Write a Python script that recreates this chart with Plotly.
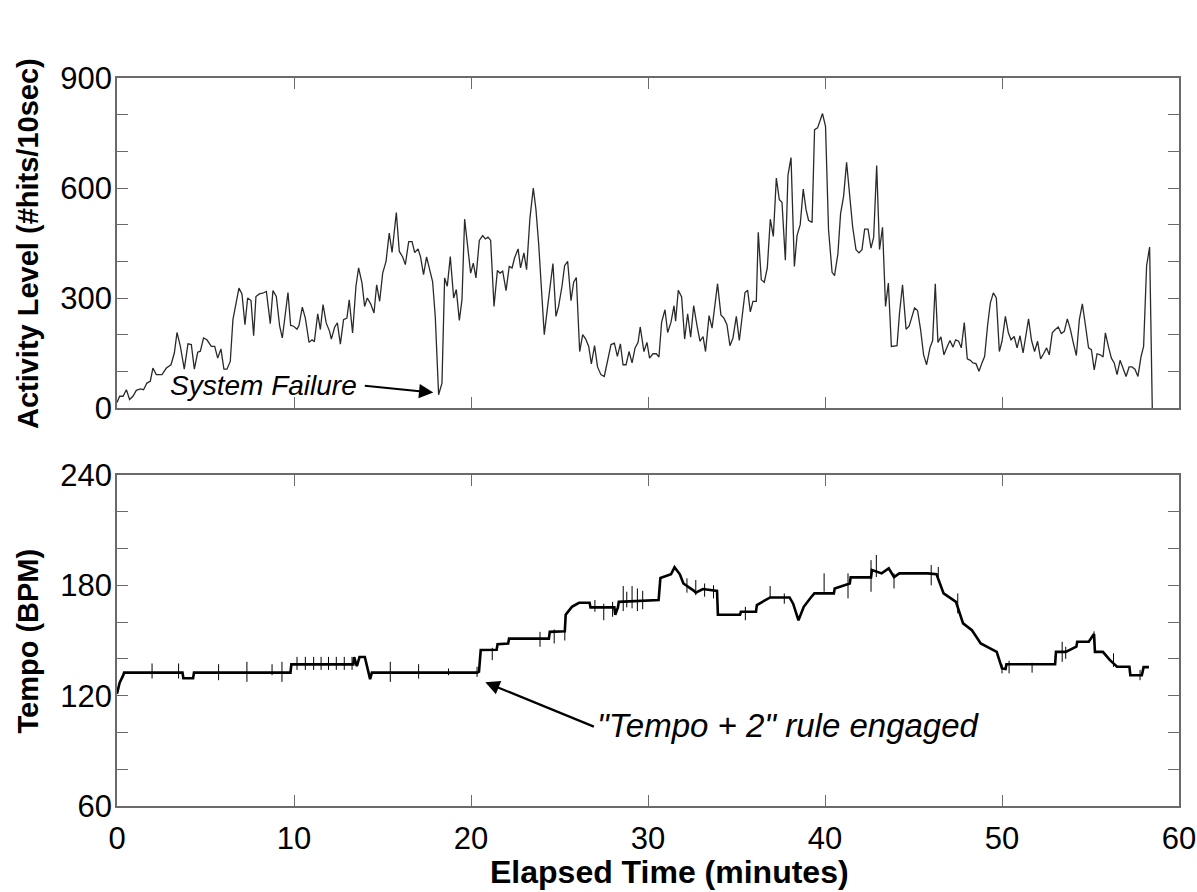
import plotly.graph_objects as go

# Activity level, one reading per vertex (minutes, hits per 10 s)
act_t = [0.00, 0.15, 0.34, 0.53, 0.71, 0.90, 1.09, 1.32, 1.50, 1.69, 1.88, 2.03, 2.22, 2.54, 2.79, 3.05, 3.24, 3.39,
         3.58, 3.80, 4.01, 4.20, 4.37, 4.56, 4.71, 4.89, 5.08, 5.33, 5.52, 5.69, 5.87, 6.04, 6.21, 6.40, 6.55, 6.74,
         6.89, 7.06, 7.23, 7.38, 7.57, 7.72, 7.85, 8.04, 8.23, 8.44, 8.66, 8.81, 9.00, 9.19, 9.34, 9.66, 9.81, 9.98,
         10.17, 10.28, 10.47, 10.64, 10.85, 11.02, 11.15, 11.34, 11.49, 11.64, 11.82, 12.01, 12.11, 12.30, 12.45,
         12.62, 12.80, 12.99, 13.12, 13.31, 13.50, 13.65, 13.84, 13.99, 14.14, 14.33, 14.52, 14.67, 14.84, 15.01,
         15.20, 15.38, 15.54, 15.78, 15.95, 16.14, 16.29, 16.48, 16.67, 16.82, 17.01, 17.15, 17.32, 17.49, 17.68,
         17.83, 17.98, 18.17, 18.36, 18.51, 18.66, 18.83, 19.02, 19.17, 19.34, 19.49, 19.64, 19.83, 19.98, 20.13,
         20.28, 20.47, 20.66, 20.81, 20.96, 21.11, 21.30, 21.49, 21.64, 21.79, 21.98, 22.16, 22.32, 22.46, 22.66,
         22.80, 22.99, 23.14, 23.33, 23.52, 23.67, 23.82, 24.01, 24.14, 24.33, 24.63, 24.80, 24.95, 25.14, 25.29,
         25.46, 25.65, 25.80, 25.95, 26.14, 26.31, 26.48, 26.65, 26.80, 26.98, 27.15, 27.34, 27.53, 27.70, 27.91,
         28.10, 28.27, 28.44, 28.59, 28.76, 28.93, 29.10, 29.27, 29.44, 29.56, 29.77, 29.94, 30.09, 30.28, 30.47,
         30.62, 30.77, 30.96, 31.11, 31.30, 31.47, 31.56, 31.71, 31.90, 32.07, 32.24, 32.41, 32.58, 32.77, 32.94,
         33.11, 33.25, 33.45, 33.62, 33.93, 34.12, 34.29, 34.46, 34.63, 34.80, 34.99, 35.16, 35.48, 35.63, 35.78,
         35.93, 36.12, 36.23, 36.40, 36.57, 36.74, 36.91, 37.08, 37.25, 37.42, 37.57, 37.76, 37.91, 38.08, 38.27,
         38.42, 38.60, 38.77, 38.93, 39.07, 39.27, 39.41, 39.58, 39.86, 40.03, 40.20, 40.40, 40.54, 40.73, 40.88,
         41.05, 41.22, 41.39, 41.56, 41.75, 41.92, 42.09, 42.24, 42.43, 42.60, 42.75, 42.92, 43.08, 43.25, 43.42,
         43.58, 43.75, 43.90, 44.07, 44.21, 44.38, 44.58, 44.75, 44.89, 45.06, 45.23, 45.40, 45.57, 45.74, 45.93,
         46.08, 46.23, 46.38, 46.55, 46.72, 46.89, 47.06, 47.23, 47.38, 47.55, 47.70, 47.87, 48.04, 48.21, 48.36,
         48.53, 48.70, 48.87, 49.02, 49.19, 49.34, 49.51, 49.68, 49.85, 50.00, 50.19, 50.36, 50.51, 50.69, 50.85,
         51.02, 51.19, 51.33, 51.50, 51.67, 51.84, 52.01, 52.18, 52.35, 52.52, 52.67, 52.84, 53.01, 53.18, 53.35,
         53.52, 53.69, 53.86, 54.01, 54.20, 54.37, 54.54, 54.71, 54.89, 55.05, 55.21, 55.37, 55.55, 55.71, 55.84,
         56.01, 56.18, 56.34, 56.50, 56.67, 56.84, 57.01, 57.18, 57.34, 57.51, 57.68, 57.85, 58.00, 58.17, 58.34,
         58.49]
act_v = [15, 32, 32, 50, 23, 32, 48, 52, 50, 68, 73, 109, 91, 91, 109, 118, 150, 206,
         168, 106, 175, 173, 106, 152, 155, 191, 186, 168, 168, 136, 161, 106, 106, 127, 241, 291,
         327, 311, 227, 300, 293, 197, 304, 311, 313, 318, 230, 320, 304, 223, 191, 315, 225, 223,
         215, 225, 275, 245, 179, 186, 181, 257, 214, 282, 232, 209, 188, 221, 232,
         174, 241, 245, 295, 205, 332, 382, 341, 277, 300, 284, 259, 336, 291, 368,
         400, 477, 424, 533, 427, 412, 391, 454, 454, 424, 434, 412, 364, 412, 373,
         345, 250, 36, 68, 355, 332, 413, 300, 323, 239, 295, 515, 432, 368, 395,
         355, 457, 470, 461, 466, 457, 277, 375, 368, 373, 320, 386, 382, 409, 434,
         382, 423, 377, 518, 600, 541, 450, 286, 200, 277, 394, 250, 277, 332, 388,
         400, 293, 343, 356, 154, 200, 188, 168, 120, 170, 112, 91, 86, 123, 173,
         177, 141, 175, 118, 118, 154, 123, 164, 179, 221, 154, 179, 136, 148, 148,
         139, 234, 268, 206, 234, 279, 237, 321, 303, 188, 257, 193, 279, 224, 182,
         195, 154, 252, 218, 339, 254, 245, 227, 170, 191, 250, 184, 315, 321, 262,
         291, 291, 479, 350, 343, 382, 515, 468, 627, 568, 561, 403, 636, 683, 386,
         470, 500, 597, 541, 512, 506, 759, 764, 803, 768, 486, 370, 361, 421, 530,
         577, 670, 577, 495, 432, 423, 432, 488, 488, 436, 466, 661, 432, 493, 277,
         341, 168, 168, 170, 259, 336, 215, 223, 245, 273, 266, 214, 145, 118, 164,
         184, 339, 179, 194, 145, 166, 184, 166, 186, 182, 164, 233, 134, 130, 123,
         121, 100, 123, 141, 227, 286, 314, 300, 154, 182, 250, 205, 186, 195, 164,
         197, 150, 195, 243, 184, 154, 182, 134, 148, 164, 145, 205, 214, 221, 203,
         209, 243, 215, 182, 143, 241, 284, 227, 164, 159, 104, 148, 145, 139, 205,
         168, 136, 123, 91, 130, 106, 86, 112, 112, 106, 86, 139, 168, 388, 439,
         0]

# Tempo track (minutes, BPM)
tempo_t = [0.0, 0.15, 0.35, 0.4, 3.7, 3.75, 4.3, 4.35, 9.8, 9.85, 13.35, 13.4, 13.55, 13.7, 14.0, 14.3, 14.4,
           20.35, 20.45, 20.55, 21.45, 21.5, 22.1, 22.15, 24.4, 24.45, 25.3, 25.35, 25.7, 26.1, 26.7, 26.75, 28.1,
           28.15, 28.3, 28.35, 30.6, 30.7, 31.3, 31.5, 31.8, 32.0, 32.6, 32.7, 33.1, 33.9, 33.95, 35.2, 35.25,
           36.1, 36.15, 36.9, 38.0, 38.2, 38.5, 38.8, 39.2, 39.4, 40.5, 40.55, 41.4, 41.45, 42.6, 42.65, 43.2,
           43.6, 43.9, 44.2, 45.8, 46.3, 46.7, 47.4, 47.8, 48.3, 48.8, 49.3, 49.7, 50.0, 50.2, 50.25, 53.0,
           53.05, 53.6, 54.2, 54.25, 54.9, 55.2, 55.25, 55.7, 56.1, 56.5, 57.2, 57.25, 57.9, 58.0, 58.3]
tempo_v = [121, 127, 131, 132.5, 132.5, 129.5, 129.5, 132.5, 132.5, 137, 137, 141, 136, 141, 141, 129, 132.5,
           132.5, 133, 144.8, 145, 148, 148.4, 151, 151, 154.7, 155, 164, 168.3, 170.5, 170.5, 168, 168,
           164, 168, 171, 172, 184, 186, 189.8, 186, 181, 177, 176, 178, 177, 164, 164, 165.6,
           165.6, 169.3, 173.4, 173.4, 170, 161, 168.3, 173.4, 175.6, 175.6, 178.3, 181, 184.3, 184.3, 188.3, 186.5,
           189.2, 184.5, 186.5, 186.5, 186, 175.6, 171, 159.3, 155.6, 148.4, 145.7, 143.8, 134.8, 134.5, 137.1, 137.1,
           143.8, 143.8, 146.6, 149.3, 149.3, 153.5, 143.8, 143.8, 139.3, 135.7, 135.7, 131.1, 131.1, 135.5, 135.5]

# Short tempo excursions (minutes, low BPM, high BPM)
spike_t = [1.98, 3.48, 5.74, 7.34, 8.76, 9.32, 10.17, 10.64, 11.11, 11.53, 11.95, 12.39, 12.84, 13.28,
           15.44, 17.04, 18.73, 20.34, 21.2, 23.9, 24.7, 25.3, 27.0, 27.5, 28.0, 28.6, 28.8, 29.1, 29.4, 29.7,
           32.2, 32.7, 33.2, 33.7, 35.5, 36.9, 37.7, 39.95, 41.3, 42.6, 42.9, 43.9, 46.0, 46.4, 47.5,
           50.0, 50.4, 51.7, 53.4, 53.6, 55.2, 56.3, 57.8]
spike_lo = [129.3, 129.3, 128.4, 127.5, 131.1, 127.5, 134, 134, 134, 134, 134, 134, 134, 134,
            127.5, 129.3, 131.1, 130.2, 139.3, 146.6, 148.4, 150, 165.6, 161, 162.9, 166, 168, 167.5, 166, 167,
            176, 174.6, 173.8, 172.9, 161, 172.9, 170, 176.5, 172.9, 176.5, 184.5, 178.3, 180, 183, 164.7,
            132.1, 132.1, 132.5, 138.4, 140, 150, 135.7, 128.4]
spike_hi = [137.5, 137.5, 137.1, 138.4, 137.1, 138.4, 141.1, 141.1, 141.1, 141.1, 141.1, 141.1, 141.1, 141.1,
            138.4, 137.1, 134.8, 135.7, 146, 154.7, 156, 158, 172, 170, 171, 179.6, 176.5, 179.6, 178.3, 177,
            183.8, 182.9, 181, 180, 168.3, 179.6, 175.6, 186.5, 186.5, 193.7, 196.5, 186.5, 191, 190, 175.6,
            137, 139, 137.9, 149.3, 146.6, 155, 143, 134]

x_ticks = [0, 10, 20, 30, 40, 50, 60]
act_ticks = list(range(0, 901, 100))
act_labels = [str(v) if v % 300 == 0 else "" for v in act_ticks]
tempo_ticks = list(range(60, 241, 20))
tempo_labels = [str(v) if v % 60 == 0 else "" for v in tempo_ticks]

FONT = "Liberation Sans, Arial, Helvetica, sans-serif"
AXIS_GREY = "#6a6a6a"

spike_x, spike_y = [], []
for t, lo, hi in zip(spike_t, spike_lo, spike_hi):
    spike_x += [t, t, None]
    spike_y += [lo, hi, None]

fig = go.Figure()
fig.add_trace(go.Scatter(x=act_t, y=act_v, mode="lines", xaxis="x", yaxis="y",
                         line=dict(color="#2a2a2a", width=1.3), showlegend=False))
fig.add_trace(go.Scatter(x=tempo_t, y=tempo_v, mode="lines", xaxis="x2", yaxis="y2",
                         line=dict(color="#000000", width=2.6), showlegend=False))
fig.add_trace(go.Scatter(x=spike_x, y=spike_y, mode="lines", xaxis="x2", yaxis="y2",
                         line=dict(color="#000000", width=1), showlegend=False))

axis_common = dict(showgrid=False, zeroline=False, showline=True, linecolor=AXIS_GREY, linewidth=1.5,
                   mirror="allticks", ticks="inside", ticklen=11, tickwidth=1.2, tickcolor=AXIS_GREY,
                   automargin=False, tickfont=dict(family=FONT, size=31, color="#000000"))

fig.update_layout(
    width=1197, height=892,
    margin=dict(l=117, r=18, t=78, b=86),
    paper_bgcolor="white", plot_bgcolor="white",
    xaxis=dict(domain=[0, 1], anchor="y", range=[0, 60], tickmode="array", tickvals=x_ticks,
               showticklabels=False, **axis_common),
    yaxis=dict(domain=[0.5467, 1], anchor="x", range=[0, 900], tickmode="array", tickvals=act_ticks,
               ticktext=act_labels, ticklabelstandoff=-3, **axis_common),
    xaxis2=dict(domain=[0, 1], anchor="y2", range=[0, 60], tickmode="array", tickvals=x_ticks,
                ticktext=[str(v) for v in x_ticks], ticklabelstandoff=4, **axis_common),
    yaxis2=dict(domain=[0, 0.4547], anchor="x2", range=[60, 240], tickmode="array", tickvals=tempo_ticks,
                ticktext=tempo_labels, ticklabelstandoff=-3, **axis_common),
    annotations=[
        dict(text="<b>Activity Level (#hits/10sec)</b>", xref="paper", yref="paper", x=-0.084, y=0.773,
             xanchor="center", yanchor="middle",
             textangle=-90, showarrow=False, font=dict(family=FONT, size=29, color="black")),
        dict(text="<b>Tempo (BPM)</b>", xref="paper", yref="paper", x=-0.084, y=0.227,
             xanchor="center", yanchor="middle",
             textangle=-90, showarrow=False, font=dict(family=FONT, size=29, color="black")),
        dict(text="<b>Elapsed Time (minutes)</b>", xref="paper", yref="paper", x=0.5207, y=-0.0907,
             xanchor="center", yanchor="middle",
             showarrow=False, font=dict(family=FONT, size=32, color="black")),
        dict(text="<i>System Failure</i>", xref="x", yref="y", x=8.3, y=61, showarrow=False,
             xanchor="center", yanchor="middle",
             font=dict(family=FONT, size=28, color="black")),
        dict(text="", xref="x", yref="y", x=17.87, y=42, ax=-70, ay=-7, showarrow=True,
             arrowhead=2, arrowsize=1.3, arrowwidth=2.2, arrowcolor="black"),
        dict(text="<i>\"Tempo + 2\" rule engaged</i>", xref="x2", yref="y2", x=37.95, y=104,
             xanchor="center", yanchor="middle",
             showarrow=False, font=dict(family=FONT, size=33, color="black")),
        dict(text="", xref="x2", yref="y2", x=20.81, y=127.3, ax=110, ay=45, showarrow=True,
             arrowhead=2, arrowsize=1.3, arrowwidth=2.2, arrowcolor="black"),
    ],
)

fig.write_html("out.html")
